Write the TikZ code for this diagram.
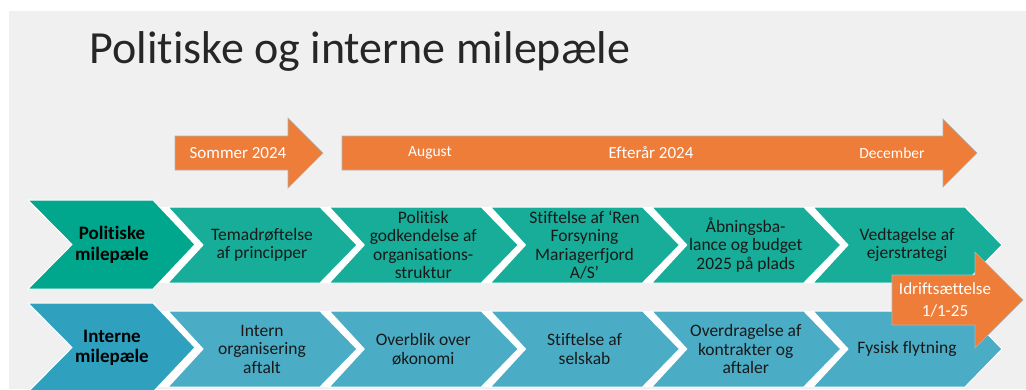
\documentclass[tikz,border=0pt]{standalone}
\usepackage{fontspec}
\setmainfont{Carlito}[Ligatures=NoCommon]
\definecolor{slidebg}{HTML}{F0F0F0}
\definecolor{polteal}{HTML}{17AD99}
\definecolor{polhead}{HTML}{00A78C}
\definecolor{intblue}{HTML}{4BACC6}
\definecolor{inthead}{HTML}{2FA1BF}
\definecolor{milestone}{HTML}{EE7D3A}
\tikzset{
  polstep/.style={fill=polteal, draw=white, line width=1pt},
  polhead/.style={fill=polhead, draw=white, line width=1pt},
  intstep/.style={fill=intblue, draw=white, line width=1pt},
  inthead/.style={fill=inthead, draw=white, line width=1pt},
  gapband/.style={fill=white},
  steptext/.style={align=center, text=black!90, font=\fontsize{17.5}{18.5}\selectfont},
  headtext/.style={align=center, text=black, font=\bfseries\fontsize{19}{20.5}\selectfont},
  timearrow/.style={fill=milestone, draw=black!30, line width=0.6pt},
  timetext/.style={text=white, font=\fontsize{17}{19}\selectfont}
}
\begin{document}
\begin{tikzpicture}[x=1pt, y=-1pt]
  \useasboundingbox (0,0) rectangle (1026,389);
  \clip (0,0) rectangle (1026,389);
  \fill[white] (0,0) rectangle (1026,389);
  \fill[slidebg] (9,11) rectangle (1026,389);

  \node[anchor=base west, text=black!85, font=\fontsize{46}{50}\selectfont] (title) at (86,63) {Politiske og interne milepæle};

  % tidslinje
  \filldraw[timearrow] (175,136) -- (288,136) -- (288,118) -- (323,153) -- (288,188) -- (288,170) -- (175,170) -- cycle;
  \filldraw[timearrow] (342,136) -- (943,136) -- (943,119) -- (977,153) -- (943,187) -- (943,170) -- (342,170) -- cycle;
  \node[timetext] (sommer) at (238,153) {Sommer 2024};
  \node[timetext, font=\fontsize{15.5}{17}\selectfont] (aug) at (430,153) {August};
  \node[timetext] (efteraar) at (651,153) {Efterår 2024};
  \node[timetext, font=\fontsize{15.5}{17}\selectfont] (dec) at (892,153) {December};

  % politiske milepaele
  \fill[gapband] (150,207) -- (965,207) -- (1002,245) -- (965,283) -- (150,283) -- (185,245) -- cycle;
  \filldraw[polstep] (168,207) -- ++(152,0) -- ++(37,38) -- ++(-37,38) -- ++(-152,0) -- ++(35,-38) -- cycle;
  \filldraw[polstep] (329.25,207) -- ++(152,0) -- ++(37,38) -- ++(-37,38) -- ++(-152,0) -- ++(35,-38) -- cycle;
  \filldraw[polstep] (490.5,207) -- ++(152,0) -- ++(37,38) -- ++(-37,38) -- ++(-152,0) -- ++(35,-38) -- cycle;
  \filldraw[polstep] (651.75,207) -- ++(152,0) -- ++(37,38) -- ++(-37,38) -- ++(-152,0) -- ++(35,-38) -- cycle;
  \filldraw[polstep] (813,207) -- ++(152,0) -- ++(37,38) -- ++(-37,38) -- ++(-152,0) -- ++(35,-38) -- cycle;
  \filldraw[polhead] (28,200) -- (153,200) -- (195,244.5) -- (153,289) -- (28,289) -- (72,244.5) -- cycle;
  \node[headtext] (pol) at (112,245) {Politiske\\milepæle};
  \node[steptext] (tema) at (262,245) {Temadrøftelse\\af principper};
  \node[steptext] (godk) at (423.25,245) {Politisk\\godkendelse af\\organisations-\\struktur};
  \node[steptext] (stift) at (584.5,245) {Stiftelse af ‘Ren\\Forsyning\\Mariagerfjord\\A/S’};
  \node[steptext] (aabn) at (745.75,245) {Åbningsba-\\lance og budget\\2025 på plads};
  \node[steptext] (vedtag) at (907,245) {Vedtagelse af\\ejerstrategi};

  % interne milepaele
  \fill[gapband] (150,311) -- (965,311) -- (1002,349) -- (965,387) -- (150,387) -- (185,349) -- cycle;
  \filldraw[intstep] (168,311) -- ++(152,0) -- ++(37,38) -- ++(-37,38) -- ++(-152,0) -- ++(35,-38) -- cycle;
  \filldraw[intstep] (329.25,311) -- ++(152,0) -- ++(37,38) -- ++(-37,38) -- ++(-152,0) -- ++(35,-38) -- cycle;
  \filldraw[intstep] (490.5,311) -- ++(152,0) -- ++(37,38) -- ++(-37,38) -- ++(-152,0) -- ++(35,-38) -- cycle;
  \filldraw[intstep] (651.75,311) -- ++(152,0) -- ++(37,38) -- ++(-37,38) -- ++(-152,0) -- ++(35,-38) -- cycle;
  \filldraw[intstep] (813,311) -- ++(152,0) -- ++(37,38) -- ++(-37,38) -- ++(-152,0) -- ++(35,-38) -- cycle;
  \filldraw[inthead] (28,303) -- (153,303) -- (195,347.5) -- (153,392) -- (28,392) -- (72,347.5) -- cycle;
  \node[headtext] (int) at (112,348) {Interne\\milepæle};
  \node[steptext] (intorg) at (262,349) {Intern\\organisering\\aftalt};
  \node[steptext] (overblik) at (423.25,349) {Overblik over\\økonomi};
  \node[steptext] (selskab) at (584.5,349) {Stiftelse af\\selskab};
  \node[steptext] (overdrag) at (745.75,349) {Overdragelse af\\kontrakter og\\aftaler};
  \node[steptext] (flyt) at (907,349) {Fysisk flytning};

  % idriftsaettelse
  \filldraw[timearrow] (892,275) -- (975,275) -- (975,252) -- (1023,300) -- (975,348) -- (975,325) -- (892,325) -- cycle;
  \node[timetext, align=center, font=\fontsize{17}{22}\selectfont] (drift) at (945,300) {Idriftsættelse\\1/1-25};
\end{tikzpicture}
\end{document}
